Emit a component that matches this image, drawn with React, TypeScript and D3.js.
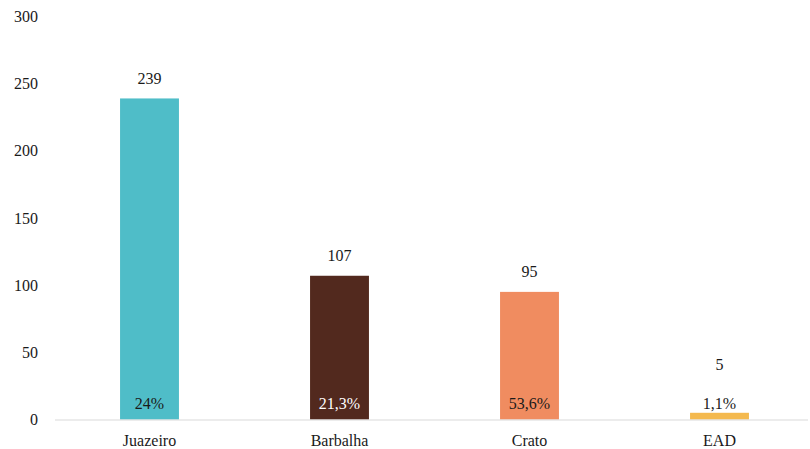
import React from "react";
import * as d3 from "d3";

const categories = ["Juazeiro", "Barbalha", "Crato", "EAD"];
const values = [239, 107, 95, 5];
const percentLabels = ["24%", "21,3%", "53,6%", "1,1%"];
const barColors = ["#4FBDC8", "#52291E", "#F08C60", "#F4B94E"];
const percentColors = ["#1a1a1a", "#ffffff", "#1a1a1a", "#1a1a1a"];
const yTicks = [0, 50, 100, 150, 200, 250, 300];

const W = 810;
const H = 449;

export default function App() {
  const x = d3.scaleBand<string>().domain(categories).range([54.5, 814.5]).paddingInner(0.69).paddingOuter(0.345);
  const y = d3.scaleLinear().domain([0, 300]).range([419.5, 16.5]);
  const font = "'Times New Roman', Times, 'Liberation Serif', 'DejaVu Serif', 'Noto Serif', serif";
  return (
    <svg width={W} height={H} style={{ position: "absolute", left: 0, top: 0, fontFamily: font }}>
      <rect width={W} height={H} fill="#fff" />
      {yTicks.map((t) => (
        <text key={t} x={38} y={y(t)} dy="0.35em" textAnchor="end" fontSize={16} fill="#1a1a1a">
          {t}
        </text>
      ))}
      {categories.map((c, i) => {
        const bx = x(c)!;
        const bw = x.bandwidth();
        const top = y(values[i]);
        const cx = bx + bw / 2;
        const labelY = Math.min(top - 20, y(0) - 55);
        return (
          <g key={c}>
            <rect x={bx} y={top} width={bw} height={y(0) - top} fill={barColors[i]} />
            <text x={cx} y={labelY} dy="0.35em" textAnchor="middle" fontSize={16} fill="#1a1a1a">
              {values[i]}
            </text>
            <text x={cx} y={403} dy="0.35em" textAnchor="middle" fontSize={16} fill={percentColors[i]}>
              {percentLabels[i]}
            </text>
            <text x={cx} y={440} dy="0.35em" textAnchor="middle" fontSize={16} fill="#1a1a1a">
              {c}
            </text>
          </g>
        );
      })}
      <line x1={55} x2={808} y1={y(0) + 0.5} y2={y(0) + 0.5} stroke="#d9d9d9" strokeWidth={1} />
    </svg>
  );
}
